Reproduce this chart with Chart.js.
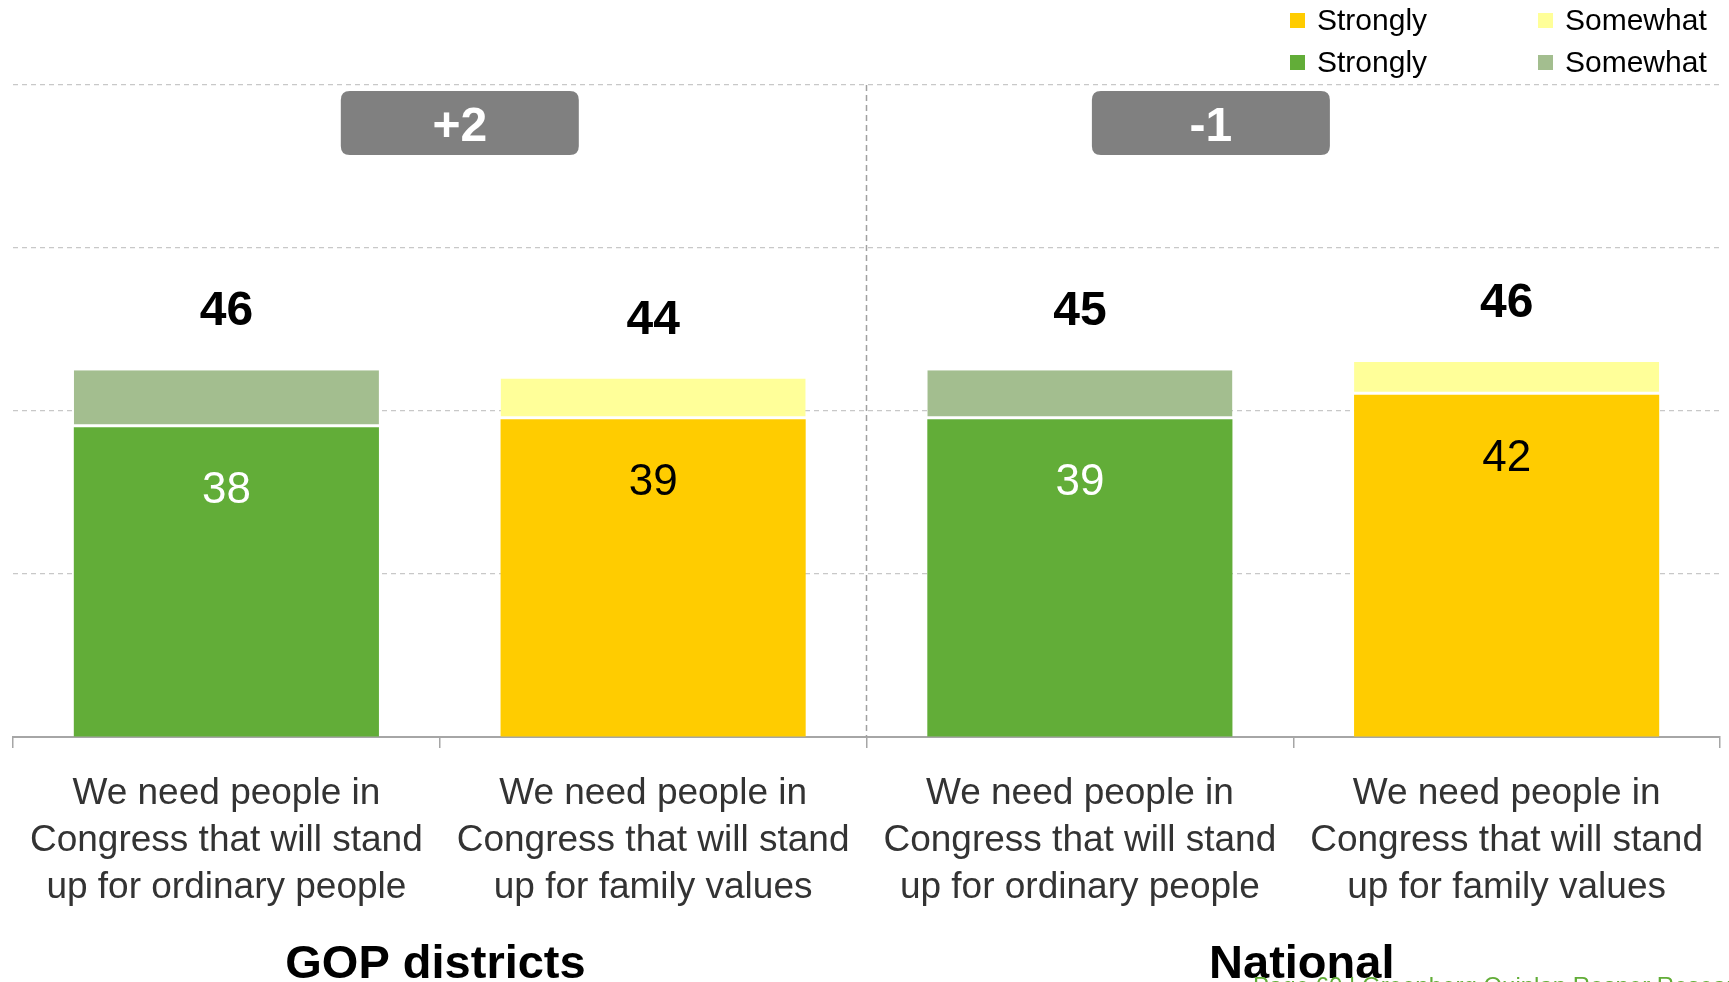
<!DOCTYPE html>
<html>
<head>
<meta charset="utf-8">
<script src="https://cdn.jsdelivr.net/npm/chart.js@4.4.1/dist/chart.umd.min.js"></script>
<style>
  html, body { margin: 0; padding: 0; background: #fff; }
  #wrap { width: 1729px; height: 982px; position: relative; }
</style>
</head>
<body>
<div id="wrap"><canvas id="chart"></canvas></div>
<script>
// categories (x axis, multi-line)
const categories = [
  ['We need people in', 'Congress that will stand', 'up for ordinary people'],
  ['We need people in', 'Congress that will stand', 'up for family values'],
  ['We need people in', 'Congress that will stand', 'up for ordinary people'],
  ['We need people in', 'Congress that will stand', 'up for family values']
];
const greenStrongly  = [38, null, 39, null];
const greenSomewhat  = [7, null, 6, null];
const yellowStrongly = [null, 39, null, 42];
const yellowSomewhat = [null, 5, null, 4];
const totals = [46, 44, 45, 46];
const groupNames = ['GOP districts', 'National'];
const groupDiffs = ['+2', '-1'];
const legendLabels = ['Strongly', 'Somewhat', 'Strongly', 'Somewhat'];

const GREEN = '#62ad38', GREEN_LT = '#a3be8f', YELLOW = '#ffcc00', YELLOW_LT = '#ffff99';
const FONT = '"Liberation Sans", Arial, sans-serif';
Chart.defaults.font.family = FONT;

function roundRect(ctx, x, y, w, h, r) {
    ctx.beginPath();
    ctx.moveTo(x + r, y);
    ctx.lineTo(x + w - r, y);
    ctx.quadraticCurveTo(x + w, y, x + w, y + r);
    ctx.lineTo(x + w, y + h - r);
    ctx.quadraticCurveTo(x + w, y + h, x + w - r, y + h);
    ctx.lineTo(x + r, y + h);
    ctx.quadraticCurveTo(x, y + h, x, y + h - r);
    ctx.lineTo(x, y + r);
    ctx.quadraticCurveTo(x, y, x + r, y);
    ctx.closePath();
}

const extras = {
    id: 'extras',
    beforeDatasetsDraw(chart) {
        // dashed divider between the two groups
        const ctx = chart.ctx, x = chart.scales.x.getPixelForValue(1.5), a = chart.chartArea;
        ctx.save();
        ctx.strokeStyle = '#a0a0a0';
        ctx.lineWidth = 1.5;
        ctx.setLineDash([6, 4]);
        ctx.beginPath();
        ctx.moveTo(x, a.top);
        ctx.lineTo(x, a.bottom);
        ctx.stroke();
        ctx.restore();
    },
    afterDatasetsDraw(chart) {
        const ctx = chart.ctx;
        ctx.save();
        ctx.textAlign = 'center';
        ctx.textBaseline = 'middle';
        for (let j = 0; j < totals.length; j++) {
            const isGreen = greenStrongly[j] != null;
            const strongEl = chart.getDatasetMeta(isGreen ? 0 : 2).data[j];
            const topEl = chart.getDatasetMeta(isGreen ? 1 : 3).data[j];
            // total above bar
            ctx.font = 'bold 48px ' + FONT;
            ctx.fillStyle = '#000';
            ctx.fillText(totals[j], topEl.x, topEl.y - 58);
            // strongly value inside bar
            ctx.font = '44px ' + FONT;
            ctx.fillStyle = isGreen ? '#fff' : '#000';
            ctx.fillText(isGreen ? greenStrongly[j] : yellowStrongly[j], strongEl.x, strongEl.y + 64);
        }
        ctx.restore();
    },
    afterDraw(chart) {
        const ctx = chart.ctx, xs = chart.scales.x;
        ctx.save();

        // difference boxes
        const boxPos = [0.547, 2.307];
        groupDiffs.forEach((t, i) => {
            const cx = xs.getPixelForValue(boxPos[i]);
            ctx.fillStyle = '#808080';
            roundRect(ctx, cx - 119, 91, 238, 64, 9);
            ctx.fill();
            ctx.fillStyle = '#fff';
            ctx.font = 'bold 48px ' + FONT;
            ctx.textAlign = 'center';
            ctx.textBaseline = 'middle';
            ctx.fillText(t, cx, 128);
        });

        // group names under the axis
        const groupPos = [0.49, 2.52];
        groupNames.forEach((t, i) => {
            ctx.fillStyle = '#000';
            ctx.font = 'bold 47px ' + FONT;
            ctx.textAlign = 'center';
            ctx.textBaseline = 'alphabetic';
            ctx.fillText(t, xs.getPixelForValue(groupPos[i]), 978);
        });

        // legend, two columns
        const colors = [YELLOW, YELLOW_LT, GREEN, GREEN_LT];
        legendLabels.forEach((t, i) => {
            const x = i % 2 === 0 ? 1290 : 1538;
            const y = i < 2 ? 21 : 63;
            ctx.fillStyle = colors[i];
            ctx.fillRect(x, y - 8, 15, 15);
            ctx.fillStyle = '#000';
            ctx.font = '30px ' + FONT;
            ctx.textAlign = 'left';
            ctx.textBaseline = 'middle';
            ctx.fillText(t, x + 27, y + 1);
        });

        // footer (cut off at bottom edge)
        ctx.fillStyle = '#62ad38';
        ctx.font = '24px ' + FONT;
        ctx.textAlign = 'left';
        ctx.textBaseline = 'alphabetic';
        ctx.fillText('Page 60 | Greenberg Quinlan Rosner Research', 1253, 994);
        ctx.restore();
    }
};

const somewhatBorder = { top: 0, right: 0, bottom: 3, left: 0 };

const config = {
    type: 'bar',
    data: {
        labels: categories,
        datasets: [
            { label: 'Strongly', data: greenStrongly, backgroundColor: GREEN, stack: 's' },
            { label: 'Somewhat', data: greenSomewhat, backgroundColor: GREEN_LT, stack: 's',
              borderColor: '#fff', borderWidth: somewhatBorder, borderSkipped: false },
            { label: 'Strongly', data: yellowStrongly, backgroundColor: YELLOW, stack: 's' },
            { label: 'Somewhat', data: yellowSomewhat, backgroundColor: YELLOW_LT, stack: 's',
              borderColor: '#fff', borderWidth: somewhatBorder, borderSkipped: false }
        ]
    },
    options: {
        responsive: true,
        maintainAspectRatio: false,
        animation: false,
        categoryPercentage: 1,
        barPercentage: 0.715,
        layout: { padding: { top: 85, left: 13, right: 9, bottom: 49 } },
        plugins: {
            legend: { display: false },
            tooltip: { enabled: false },
            title: { display: false }
        },
        scales: {
            x: {
                stacked: true,
                grid: { drawOnChartArea: false, tickLength: 11, color: '#a6a6a6', lineWidth: 1.5 },
                border: { color: '#a6a6a6', width: 2 },
                ticks: {
                    color: '#333',
                    padding: 22,
                    maxRotation: 0,
                    autoSkip: false,
                    font: { size: 37, lineHeight: 1.27 }
                }
            },
            y: {
                stacked: true,
                min: 0,
                max: 80,
                ticks: { display: false, stepSize: 20 },
                grid: {
                    drawTicks: false,
                    color: ctx => ctx.tick.value === 0 ? 'rgba(0,0,0,0)' : '#c8c8c8',
                    lineWidth: 1.2
                },
                border: { display: false, dash: [5, 4] },
                afterFit: s => { s.width = 0; }
            }
        }
    },
    plugins: [extras]
};

const chart = new Chart('chart', config);
</script>
</body>
</html>
